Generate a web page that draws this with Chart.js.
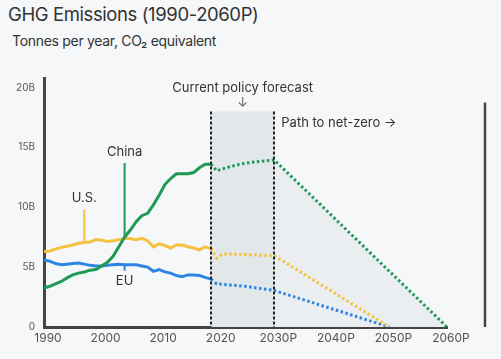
<!doctype html>
<html lang="en">
    <head>
        <meta charset="UTF-8" />
        <title>GHG Emissions</title>
        <style>
            html, body { margin: 0; padding: 0; background: #f6f7f9; }
            body { width: 501px; height: 359px; position: relative; overflow: hidden; font-family: Inter, "Noto Sans", sans-serif; color: #333; }
            h1 { position: absolute; left: 8px; top: 3px; margin: 0; font-size: 18.5px; font-weight: 400; letter-spacing: -0.4px; }
            h2 { position: absolute; left: 12px; top: 32px; margin: 0; font-size: 14px; font-weight: 400; letter-spacing: -0.3px; }
            #wrap { position: absolute; left: 0; top: 0; width: 501px; height: 359px; }
        </style>
    </head>
    <body>
        <h1>GHG Emissions (1990-2060P)</h1>
        <h2>Tonnes per year, CO₂ equivalent</h2>
        <div id="wrap"><canvas id="ghgChart"></canvas></div>

        <script src="https://cdn.jsdelivr.net/npm/chart.js@4.4.1/dist/chart.umd.min.js"></script>
        <script>
            // historical values, billions of tonnes
            const years = [1990, 1991, 1992, 1993, 1994, 1995, 1996, 1997, 1998, 1999,
                2000, 2001, 2002, 2003, 2004, 2005, 2006, 2007, 2008, 2009,
                2010, 2011, 2012, 2013, 2014, 2015, 2016, 2017, 2018, 2019];
            const china = [3.25, 3.4, 3.6, 3.8, 4.1, 4.35, 4.5, 4.6, 4.75, 4.8,
                5.1, 5.4, 5.9, 6.7, 7.5, 8.1, 8.8, 9.3, 9.5, 10.2,
                11.0, 11.9, 12.4, 12.8, 12.8, 12.8, 12.9, 13.3, 13.6, 13.6];
            const us = [6.3, 6.35, 6.5, 6.65, 6.75, 6.85, 7.0, 7.05, 7.1, 7.3,
                7.25, 7.15, 7.2, 7.3, 7.4, 7.4, 7.3, 7.4, 7.2, 6.7,
                6.95, 6.8, 6.6, 6.85, 6.85, 6.7, 6.6, 6.45, 6.7, 6.55];
            const eu = [5.6, 5.5, 5.3, 5.2, 5.25, 5.3, 5.35, 5.25, 5.15, 5.1,
                5.1, 5.15, 5.2, 5.25, 5.2, 5.2, 5.2, 5.1, 5.0, 4.65,
                4.8, 4.6, 4.5, 4.3, 4.2, 4.35, 4.35, 4.3, 4.15, 4.0];

            // forecast / net-zero paths
            const chinaForecastYears = [2019, 2020, 2022, 2024, 2026, 2028, 2030, 2060];
            const chinaForecast = [13.6, 13.05, 13.35, 13.6, 13.75, 13.85, 13.95, 0];
            const usForecastYears = [2019, 2020, 2021, 2025, 2030, 2050];
            const usForecast = [6.55, 5.75, 6.1, 6.05, 5.95, 0];
            const euForecastYears = [2019, 2020, 2025, 2030, 2050];
            const euForecast = [4.0, 3.6, 3.4, 3.05, 0];

            // policy forecast window
            const policyYears = [2019, 2030];
            const policyTop = 18;

            // series labels with pointer lines
            const labelNames = ["China", "U.S.", "EU"];
            const labelYears = [2004, 1997, 2004];
            const labelValues = [14.6, 10.8, 3.85];
            const pointerEnds = [13.7, 9.8, 4.7];

            const green = "#1f9a55";
            const yellow = "#f5c240";
            const blue = "#2f86e2";

            const pts = (xs, ys) => xs.map((x, i) => ({ x: x, y: ys[i] }));

            function lineSet(label, data, color, dotted) {
                return {
                    label: label,
                    data: data,
                    borderColor: color,
                    borderWidth: 3,
                    borderDash: dotted ? [2.5, 2.5] : [],
                    pointRadius: 0,
                    tension: 0,
                    fill: false,
                    order: 1,
                };
            }

            const annotations = {
                id: "annotations",
                afterDatasetsDraw(chart) {
                    const ctx = chart.ctx;
                    const x = chart.scales.x;
                    const y = chart.scales.y;
                    const area = chart.chartArea;
                    ctx.save();

                    // dashed window edges
                    ctx.strokeStyle = "#222";
                    ctx.lineWidth = 2;
                    ctx.setLineDash([3, 2]);
                    policyYears.forEach((yr) => {
                        const px = Math.round(x.getPixelForValue(yr));
                        ctx.beginPath();
                        ctx.moveTo(px, y.getPixelForValue(policyTop));
                        ctx.lineTo(px, area.bottom);
                        ctx.stroke();
                    });
                    ctx.setLineDash([]);

                    // pointers + labels
                    const colors = [green, yellow, blue];
                    const series = [china, us, eu];
                    ctx.font = "13px Inter, 'Noto Sans', sans-serif";
                    ctx.textAlign = "center";
                    ctx.textBaseline = "middle";
                    labelNames.forEach((name, i) => {
                        const px = x.getPixelForValue(labelYears[i]);
                        const onLine = series[i][years.indexOf(labelYears[i])];
                        ctx.strokeStyle = colors[i];
                        ctx.lineWidth = 2;
                        ctx.beginPath();
                        ctx.moveTo(px, y.getPixelForValue(pointerEnds[i]));
                        ctx.lineTo(px, y.getPixelForValue(onLine));
                        ctx.stroke();
                        ctx.fillStyle = "#333";
                        ctx.fillText(name, px, y.getPixelForValue(labelValues[i]));
                    });

                    // window captions
                    const midX = (x.getPixelForValue(policyYears[0]) + x.getPixelForValue(policyYears[1])) / 2;
                    const topY = y.getPixelForValue(policyTop);
                    ctx.fillText("Current policy forecast", midX, topY - 23);
                    ctx.fillStyle = "#666";
                    ctx.fillText("↓", midX, topY - 8);
                    ctx.textAlign = "left";
                    ctx.fillStyle = "#333";
                    ctx.fillText("Path to net-zero →", x.getPixelForValue(policyYears[1]) + 7, topY + 12);

                    // frame edge on the right
                    ctx.strokeStyle = "#444";
                    ctx.lineWidth = 2.5;
                    ctx.beginPath();
                    ctx.moveTo(area.right + 38, y.getPixelForValue(18.75));
                    ctx.lineTo(area.right + 38, area.bottom);
                    ctx.stroke();
                    ctx.restore();
                },
            };

            const chart = new Chart(document.getElementById("ghgChart"), {
                type: "line",
                data: {
                    datasets: [
                        lineSet("China", pts(years, china), green, false),
                        lineSet("U.S.", pts(years, us), yellow, false),
                        lineSet("EU", pts(years, eu), blue, false),
                        lineSet("China forecast", pts(chinaForecastYears, chinaForecast), green, true),
                        lineSet("U.S. forecast", pts(usForecastYears, usForecast), yellow, true),
                        lineSet("EU forecast", pts(euForecastYears, euForecast), blue, true),
                        {
                            label: "net-zero area",
                            data: pts(chinaForecastYears.slice(-2), chinaForecast.slice(-2)),
                            borderWidth: 0,
                            pointRadius: 0,
                            fill: "origin",
                            backgroundColor: "#ebeef0",
                            order: 5,
                        },
                        {
                            label: "policy window",
                            data: pts(policyYears, [policyTop, policyTop]),
                            borderWidth: 0,
                            pointRadius: 0,
                            fill: "origin",
                            backgroundColor: "#e2e7e9",
                            order: 6,
                        },
                    ],
                },
                options: {
                    responsive: true,
                    maintainAspectRatio: false,
                    animation: false,
                    layout: { padding: { top: 78, right: 54, left: 0, bottom: 0 } },
                    plugins: {
                        legend: { display: false },
                        tooltip: { enabled: false },
                    },
                    scales: {
                        x: {
                            type: "linear",
                            min: 1990,
                            max: 2060,
                            grid: { display: false, drawTicks: false },
                            border: { color: "#444", width: 3 },
                            afterFit: (s) => { s.height = 32; },
                            ticks: {
                                stepSize: 10,
                                padding: 4,
                                labelOffset: 4,
                                color: "#555",
                                font: { family: "Inter, 'Noto Sans', sans-serif", size: 12 },
                                callback: (v) => (v >= 2030 ? v + "P" : String(v)),
                            },
                        },
                        y: {
                            min: 0,
                            max: 20.8,
                            grid: { display: false, drawTicks: false },
                            border: { color: "#444", width: 3 },
                            afterFit: (s) => { s.width = 44; },
                            ticks: {
                                stepSize: 5,
                                includeBounds: false,
                                padding: 9,
                                color: "#555",
                                font: { family: "Inter, 'Noto Sans', sans-serif", size: 10 },
                                callback: (v) => (v === 0 ? "0" : v + "B"),
                            },
                        },
                    },
                },
                plugins: [annotations],
            });
        </script>
    </body>
</html>
